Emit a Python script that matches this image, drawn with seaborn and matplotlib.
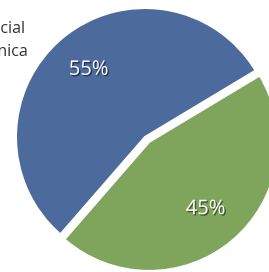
import matplotlib.pyplot as plt
import matplotlib.patheffects as pe
import seaborn as sns

# datos
categorias = ["Social", "Técnica"]
porcentajes = [55, 45]
colores = ["#4c6a9c", "#7ea55b"]

sns.set_theme(style="white")
plt.rcParams['font.family'] = ['Open Sans', 'DejaVu Sans']

fig = plt.figure(figsize=(2.69, 2.72), dpi=100)
ax = fig.add_axes([0, 0, 1, 1])

wedges, textos, autotextos = ax.pie(
    porcentajes,
    colors=colores,
    startangle=31,
    explode=[0, 0.05],
    autopct="%d%%",
    pctdistance=0.68,
    wedgeprops=dict(edgecolor="white", linewidth=1.5),
)
for t in autotextos:
    t.set_color("white")
    t.set_fontsize(14.5)
    t.set_fontweight("medium")
    t.set_path_effects([pe.withSimplePatchShadow(offset=(1, -1), shadow_rgbFace="black", alpha=0.5)])

# recorte del circulo como en la imagen
r = 129.0
ax.set_xlim(-145 / r, (269 - 145) / r)
ax.set_ylim(-135 / r, (272 - 135) / r)
ax.axis("off")

# leyenda cortada a la izquierda
fig.text(25 / 269, 1 - 33 / 272, categorias[0], ha="right", va="baseline", fontsize=11.5, color="#333333")
fig.text(29 / 269, 1 - 56 / 272, categorias[1], ha="right", va="baseline", fontsize=11.5, color="#333333")

fig.savefig("out.png", dpi=100)
